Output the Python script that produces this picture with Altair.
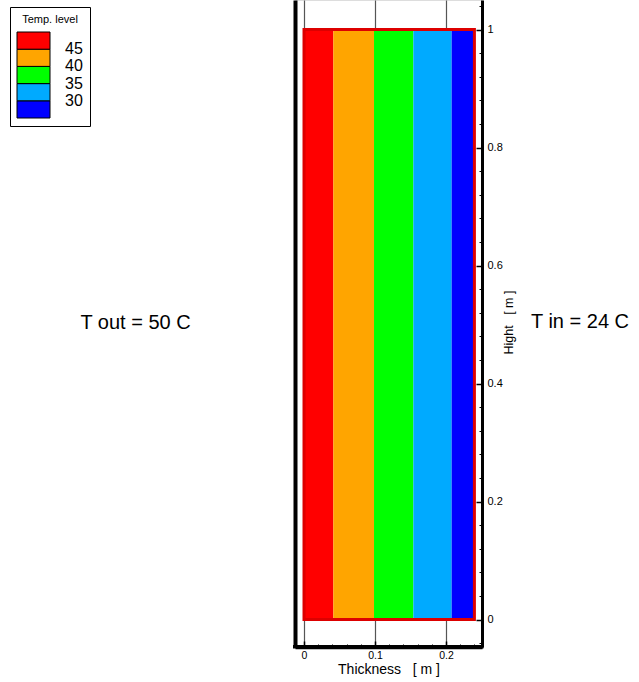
import altair as alt
import pandas as pd

# ---------------- data ----------------
band_level = [47.5, 42.5, 37.5, 32.5, 27.5]          # temperature band (°C)
band_start = [0.0, 0.0413, 0.0986, 0.154, 0.208]     # m
band_end = [0.0413, 0.0986, 0.154, 0.208, 0.24]      # m
wall_x = [0.0, 0.24]                                   # wall thickness (m)
wall_y = [0.0, 1.0]                                    # wall height (m)
temp_levels = [30, 35, 40, 45]
level_colors = ["#0000ff", "#00aaff", "#00ff00", "#ffa500", "#ff0000"]
x_major = [0, 0.1, 0.2]
x_minor = [0.02, 0.04, 0.06, 0.08, 0.12, 0.14, 0.16, 0.18, 0.22, 0.24]
y_major = [0, 0.2, 0.4, 0.6, 0.8, 1.0]
y_minor = [-0.04, 0.04, 0.08, 0.12, 0.16, 0.24, 0.28, 0.32, 0.36, 0.44, 0.48,
           0.52, 0.56, 0.64, 0.68, 0.72, 0.76, 0.84, 0.88, 0.92, 0.96, 1.04]
annotations = ["T out = 50 C", "T in = 24 C"]

FONT = "Liberation Sans"
W, H = 187, 647

bands = pd.DataFrame({
    "x0": band_start, "x1": band_end,
    "y0": [wall_y[0]] * len(band_start), "y1": [wall_y[1]] * len(band_start),
    "temp": band_level,
})
wall = pd.DataFrame({"x0": [wall_x[0]], "x1": [wall_x[1]], "y0": [wall_y[0]], "y1": [wall_y[1]]})

xs = alt.Scale(domain=[-0.0127, 0.2507], nice=False, zero=False)
ys = alt.Scale(domain=[-0.0466, 1.05], nice=False, zero=False)

ax_bottom = alt.Axis(orient="bottom", values=x_major, format="~g", grid=True,
                     gridColor="#555555", gridWidth=1.2, ticks=False, tickSize=0,
                     domain=True, domainColor="black", domainWidth=3.5, labelFontSize=10.5,
                     labelPadding=3, labelColor="black", labelFont=FONT, labelFlush=False,
                     title="Thickness\u00a0\u00a0\u00a0[ m ]", titleFontSize=14,
                     titleFontWeight="normal", titleFont=FONT, titlePadding=2,
                     titleColor="black")
ax_left_frame = alt.Axis(orient="left", domain=True, domainColor="black", domainWidth=4,
                         ticks=False, labels=False, grid=False, title="")
ax_right = alt.Axis(orient="right", values=y_major, format="~g", grid=False, ticks=False,
                    tickSize=0, domainColor="black", domainWidth=3, labelFontSize=11,
                    labelPadding=5, labelColor="black", labelFont=FONT, labelFlush=False,
                    title="Hight\u00a0\u00a0\u00a0[ m ]", titleFontSize=12.5,
                    titleFontWeight="normal", titleFont=FONT, titleColor="black",
                    titleAngle=270, titleX=26, titleY=322, titleBaseline="middle",
                    titleAlign="center")
ax_x_in = alt.Axis(orient="top", offset=-H, values=x_major, domain=False, labels=False,
                   grid=False, ticks=True, tickSize=6, tickColor="black", tickWidth=1.5,
                   title="")
ax_x_minor = alt.Axis(orient="top", offset=-H, values=x_minor, domain=False, labels=False,
                      grid=False, ticks=True, tickSize=3, tickColor="black", tickWidth=1,
                      title="")
ax_y_in = alt.Axis(orient="left", offset=-W, values=y_major, domain=False, labels=False,
                   grid=False, ticks=True, tickSize=6, tickColor="black", tickWidth=1.5,
                   title="")
ax_y_minor = alt.Axis(orient="left", offset=-W, values=y_minor, domain=False, labels=False,
                      grid=False, ticks=True, tickSize=3, tickColor="black", tickWidth=1,
                      title="")

legend = alt.Legend(
    type="gradient", orient="none", legendX=-285, legendY=7, direction="vertical",
    gradientLength=86, gradientThickness=33,
    gradientStrokeColor="black", gradientStrokeWidth=1,
    title="Temp. level", titleFontSize=11, titleFontWeight="normal", titleFont=FONT,
    titleColor="black", titleAnchor="middle", titlePadding=7,
    labelFontSize=16, labelOffset=15, labelFont=FONT, labelColor="black",
    labelOverlap=False,
    strokeColor="black", fillColor="white", padding=7,
)

band_layer = alt.Chart(bands).mark_rect().encode(
    x=alt.X("x0:Q", scale=xs, axis=ax_bottom),
    x2="x1:Q",
    y=alt.Y("y0:Q", scale=ys, axis=ax_left_frame),
    y2="y1:Q",
    color=alt.Color("temp:Q",
                    scale=alt.Scale(type="threshold", domain=temp_levels, range=level_colors),
                    legend=legend),
)

border_layer = alt.Chart(wall).mark_rect(filled=False, stroke="#dd0000", strokeWidth=3).encode(
    x=alt.X("x0:Q", scale=xs, axis=ax_x_in),
    x2="x1:Q",
    y=alt.Y("y0:Q", scale=ys, axis=ax_right),
    y2="y1:Q",
)

tick_layer1 = alt.Chart(wall).mark_rect(opacity=0).encode(
    x=alt.X("x0:Q", scale=xs, axis=ax_x_minor),
    x2="x1:Q",
    y=alt.Y("y0:Q", scale=ys, axis=ax_y_in),
    y2="y1:Q",
)

tick_layer2 = alt.Chart(wall).mark_rect(opacity=0).encode(
    x=alt.X("x0:Q", scale=xs, axis=None),
    x2="x1:Q",
    y=alt.Y("y0:Q", scale=ys, axis=ax_y_minor),
    y2="y1:Q",
)

# bottom edge of the plot frame (solid bar)
frame_bottom = alt.Chart(wall).mark_rect(color="black", opacity=1).encode(
    x=alt.value(-2), x2=alt.value(W + 1.5), y=alt.value(H - 2), y2=alt.value(H + 1.5)
)

t_out = alt.Chart(pd.DataFrame({"label": [annotations[0]]})).mark_text(
    font=FONT, fontSize=20, align="center", baseline="middle", color="black"
).encode(x=alt.value(-159.5), y=alt.value(323), text="label:N")

t_in = alt.Chart(pd.DataFrame({"label": [annotations[1]]})).mark_text(
    font=FONT, fontSize=20, align="center", baseline="middle", color="black"
).encode(x=alt.value(285), y=alt.value(322), text="label:N")

chart = alt.layer(band_layer, border_layer, tick_layer1, tick_layer2, frame_bottom,
                  t_out, t_in).resolve_axis(
    x="independent", y="independent"
).properties(
    width=W, height=H,
    autosize=alt.AutoSizeParams(type="none"),
    padding={"left": 295, "top": 0, "right": 157, "bottom": 682 - H},
    background="white",
).configure_view(strokeWidth=0).configure(font=FONT)

chart.save("out.html", embed_options={"renderer": "svg", "actions": False})
